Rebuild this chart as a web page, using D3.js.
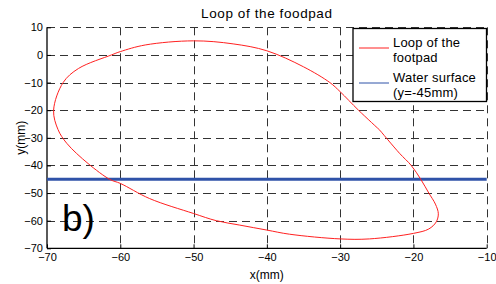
<!DOCTYPE html>
<html>
<head>
<meta charset="utf-8">
<script src="https://cdn.jsdelivr.net/npm/d3@7"></script>
<style>
  html, body { margin: 0; padding: 0; background: #fff; }
  svg { display: block; font-family: "Liberation Sans", Arial, sans-serif; }
</style>
</head>
<body>
<svg id="chart" width="496" height="284"></svg>
<script>
// ---- data ----
const titleText = "Loop of the foodpad";
const xTicks = [-70, -60, -50, -40, -30, -20, -10];
const yTicks = [-70, -60, -50, -40, -30, -20, -10, 0, 10];
const loopX = [-24.6, -27.5, -30.0, -31.4, -35.0, -40.0, -44.6, -50.0, -56.6, -60.0, -61.2, -65.7, -67.8, -69.1, -68.5, -67.3, -64.4, -61.4, -60.0, -56.0, -50.0, -46.9, -43.7, -40.0, -36.9, -30.0, -26.0, -20.0, -17.9, -16.9, -16.6, -17.0, -17.9, -19.0, -20.3, -21.9, -24.6];
const loopY = [-27.2, -20.0, -13.3, -10.0, -4.3, 1.5, 4.0, 5.1, 3.6, 1.2, 0.0, -4.9, -10.0, -20.0, -27.0, -32.0, -39.3, -45.1, -46.5, -52.0, -57.4, -60.0, -61.6, -63.4, -64.9, -66.6, -66.6, -64.6, -63.0, -60.5, -57.5, -54.0, -50.0, -45.0, -40.0, -35.6, -27.2];
const waterX = [-70, -10];
const waterY = [-45, -45];
const legendLabels = [["Loop of the", "footpad"], ["Water surface", "(y=-45mm)"]];
const seriesColors = ["#ff2020", "#2f52a8"];

// ---- layout ----
const svg = d3.select("#chart");
const L = 47, R = 486.7, T = 27.3, B = 248.3;
const x = d3.scaleLinear().domain([-70, -10]).range([L, R]);
const y = d3.scaleLinear().domain([-70, 10]).range([B, T]);

// grid
const grid = svg.append("g").attr("stroke", "#333").attr("stroke-width", 1).attr("stroke-dasharray", "8,5");
grid.selectAll("line.gx").data(xTicks.slice(1)).join("line")
  .attr("x1", d => Math.round(x(d)) + 0.5).attr("x2", d => Math.round(x(d)) + 0.5)
  .attr("y1", T).attr("y2", B);
grid.selectAll("line.gy").data(yTicks.slice(1)).join("line")
  .attr("y1", d => Math.round(y(d)) + 0.5).attr("y2", d => Math.round(y(d)) + 0.5)
  .attr("x1", L).attr("x2", R);

// axes
const xAxis = d3.axisBottom(x).tickValues(xTicks).tickSize(-4).tickPadding(5).tickFormat(d3.format("d"));
const yAxis = d3.axisLeft(y).tickValues(yTicks).tickSize(-4).tickPadding(4).tickFormat(d3.format("d"));
const gx = svg.append("g").attr("transform", `translate(0,${B})`).call(xAxis);
const gy = svg.append("g").attr("transform", `translate(${L},0)`).call(yAxis);
[gx, gy].forEach(g => {
  g.select(".domain").attr("stroke", "#000").attr("stroke-width", 1.3);
  g.selectAll(".tick line").attr("stroke", "#000");
  g.selectAll(".tick text").attr("fill", "#000").style("font-size", "11px")
    .style("font-family", "'Liberation Sans', Arial, sans-serif");
});
gx.select(".domain").attr("d", `M${L},0H${R}`);
gy.select(".domain").attr("d", `M0,${B}V${T}`);

// water surface
svg.append("path")
  .datum(waterX.map((d, i) => [d, waterY[i]]))
  .attr("fill", "none").attr("stroke", seriesColors[1]).attr("stroke-width", 3.2)
  .attr("d", d3.line().x(d => x(d[0])).y(d => y(d[1])));

// loop
svg.append("path")
  .datum(loopX.map((d, i) => [d, loopY[i]]))
  .attr("fill", "none").attr("stroke", seriesColors[0]).attr("stroke-width", 1)
  .attr("d", d3.line().x(d => x(d[0])).y(d => y(d[1])).curve(d3.curveCatmullRom.alpha(0.5)));

// title
svg.append("text").attr("x", (L + R) / 2).attr("y", 18).attr("text-anchor", "middle")
  .style("font-size", "13.5px").style("letter-spacing", "0.6px").text(titleText);

// axis labels
svg.append("text").attr("x", (L + R) / 2).attr("y", 279).attr("text-anchor", "middle")
  .style("font-size", "12px").text("x(mm)");
svg.append("text").attr("transform", `translate(25,${(T + B) / 2}) rotate(-90)`)
  .attr("text-anchor", "middle").style("font-size", "12px").text("y(mm)");

// b) label
svg.append("text").attr("x", 62).attr("y", 231).style("font-size", "37px").text("b)");

// legend
const lg = svg.append("g");
lg.append("rect").attr("x", 353).attr("y", 28.5).attr("width", 133.5).attr("height", 73)
  .attr("fill", "#fff").attr("stroke", "#000").attr("stroke-width", 1.3);
const legY = [48, 83];
legendLabels.forEach((lines, i) => {
  lg.append("line").attr("x1", 359).attr("x2", 389).attr("y1", legY[i]).attr("y2", legY[i])
    .attr("stroke", seriesColors[i]).attr("stroke-width", 1);
  lines.forEach((t, j) => {
    lg.append("text").attr("x", 393).attr("y", legY[i] - 1.5 + j * 15)
      .style("font-size", "13px").style("letter-spacing", "0.2px").text(t);
  });
});
</script>
</body>
</html>
